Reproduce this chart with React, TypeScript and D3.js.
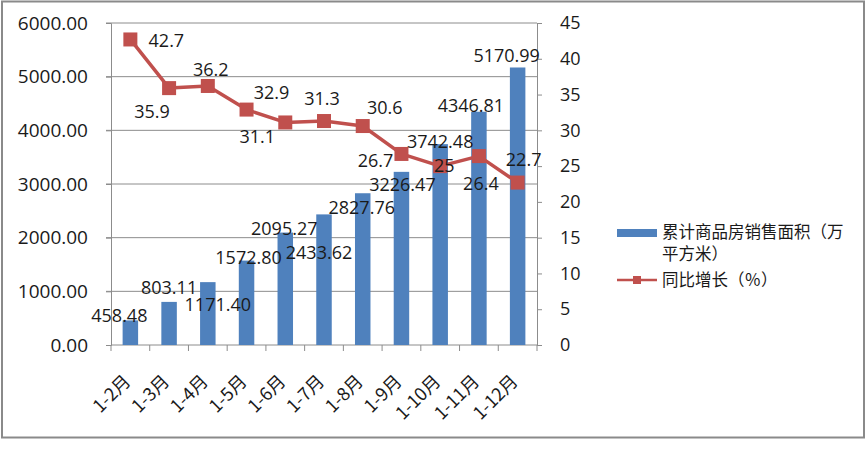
import { useEffect, useRef } from "react";
import * as d3 from "d3";

const categories = ["1-2月", "1-3月", "1-4月", "1-5月", "1-6月", "1-7月", "1-8月", "1-9月", "1-10月", "1-11月", "1-12月"];
const areaValues = [458.48, 803.11, 1171.4, 1572.8, 2095.27, 2433.62, 2827.76, 3226.47, 3742.48, 4346.81, 5170.99];
const areaLabels = ["458.48", "803.11", "1171.40", "1572.80", "2095.27", "2433.62", "2827.76", "3226.47", "3742.48", "4346.81", "5170.99"];
const growthValues = [42.7, 35.9, 36.2, 32.9, 31.1, 31.3, 30.6, 26.7, 25, 26.4, 22.7];
const leftTicks = [0, 1000, 2000, 3000, 4000, 5000, 6000];
const rightTicks = [0, 5, 10, 15, 20, 25, 30, 35, 40, 45];
const seriesNames = ["累计商品房销售面积（万", "平方米）", "同比增长（％）"];

// label nudges (px)
const barLabelOffsets: [number, number][] = [[-11, -5], [0, -14], [10, 23], [2, -3], [-1, -4], [-5, 38], [-1, 14], [1, 13], [0, -2], [-8, -6], [-11, -12]];
const lineLabelOffsets: [number, number][] = [[36, 1], [-17, 24], [3, -16], [25, -17], [-28, 14], [-2, -22], [22, -18], [-26, 7], [4, 0], [2, 28], [6, -23]];

const App = () => {
  const svgRef = useRef<SVGSVGElement>(null);

  useEffect(() => {
    const w = 868;
    const h = 450;
    const left = 111, right = 537, top = 23, bottom = 345;
    const font = "'Open Sans', 'Noto Sans', sans-serif";
    const cjk = "'Noto Sans CJK SC', sans-serif";
    const grid = "#8c8c8c";

    const svg = d3.select(svgRef.current).attr("width", w).attr("height", h);
    svg.selectAll("*").remove();

    svg.append("rect").attr("x", 0).attr("y", 0).attr("width", w).attr("height", h).attr("fill", "#fff");
    svg.append("rect").attr("x", 2).attr("y", 1.5).attr("width", 862).attr("height", 436)
      .attr("fill", "none").attr("stroke", "#8a8a8a").attr("stroke-width", 2);

    const x = d3.scaleBand().domain(categories).range([left, right]).paddingInner(0.6).paddingOuter(0.3);
    const xc = (d: string) => (x(d) as number) + x.bandwidth() / 2;
    const yL = d3.scaleLinear().domain([0, 6000]).range([bottom, top]);
    const yR = d3.scaleLinear().domain([0, 45]).range([bottom, top]);

    // gridlines
    svg.append("g").selectAll("line").data(leftTicks.slice(1)).join("line")
      .attr("x1", left - 5).attr("x2", right).attr("y1", (d) => yL(d)).attr("y2", (d) => yL(d))
      .attr("stroke", grid).attr("stroke-width", 1);

    // left axis
    const gl = svg.append("g").attr("transform", `translate(${left},0)`)
      .call(d3.axisLeft(yL).tickValues(leftTicks).tickFormat((d) => (d as number).toFixed(2)).tickSizeOuter(0).tickSize(5).tickPadding(18));
    gl.select(".domain").attr("stroke", grid);
    gl.selectAll(".tick line").attr("stroke", grid);
    gl.selectAll("text").attr("font-family", font).attr("font-size", 19).attr("fill", "#1a1a1a");

    // right axis
    const gr = svg.append("g").attr("transform", `translate(${right},0)`)
      .call(d3.axisRight(yR).tickValues(rightTicks).tickSizeOuter(0).tickSize(5).tickPadding(18));
    gr.select(".domain").attr("stroke", grid);
    gr.selectAll(".tick line").attr("stroke", grid);
    gr.selectAll("text").attr("font-family", font).attr("font-size", 18).attr("fill", "#1a1a1a");

    // bottom axis with ticks between categories
    const bounds = d3.range(categories.length + 1).map((i) => left + i * (right - left) / categories.length);
    svg.append("line").attr("x1", left).attr("x2", right).attr("y1", bottom).attr("y2", bottom).attr("stroke", grid);
    svg.append("g").selectAll("line").data(bounds).join("line")
      .attr("x1", (d) => d).attr("x2", (d) => d).attr("y1", bottom).attr("y2", bottom + 6).attr("stroke", grid);
    svg.append("g").selectAll("text").data(categories).join("text")
      .attr("transform", (d) => `translate(${xc(d) - 3},${bottom + 33}) rotate(-45)`)
      .attr("text-anchor", "end").attr("dy", "0.35em")
      .attr("font-family", cjk).attr("font-size", 18).attr("fill", "#1a1a1a")
      .text((d) => d);

    // bars
    svg.append("g").selectAll("rect").data(areaValues).join("rect")
      .attr("x", (_, i) => x(categories[i]) as number).attr("width", x.bandwidth())
      .attr("y", (d) => yL(d)).attr("height", (d) => bottom - yL(d))
      .attr("fill", "#4f81bd");

    // line
    const line = d3.line<number>().x((_, i) => xc(categories[i])).y((d) => yR(d));
    svg.append("path").datum(growthValues).attr("d", line)
      .attr("fill", "none").attr("stroke", "#c0504d").attr("stroke-width", 3.5).attr("stroke-linejoin", "round");
    svg.append("g").selectAll("rect").data(growthValues).join("rect")
      .attr("x", (_, i) => xc(categories[i]) - 7).attr("y", (d) => yR(d) - 7)
      .attr("width", 14).attr("height", 14).attr("fill", "#c0504d");

    // bar labels
    svg.append("g").selectAll("text").data(areaValues).join("text")
      .attr("x", (_, i) => xc(categories[i]) + barLabelOffsets[i][0])
      .attr("y", (d, i) => yL(d) + barLabelOffsets[i][1])
      .attr("dy", "0.35em").attr("text-anchor", "middle")
      .attr("font-family", font).attr("font-size", 18).attr("fill", "#1a1a1a")
      .text((_, i) => areaLabels[i]);

    // line labels
    svg.append("g").selectAll("text").data(growthValues).join("text")
      .attr("x", (_, i) => xc(categories[i]) + lineLabelOffsets[i][0])
      .attr("y", (d, i) => yR(d) + lineLabelOffsets[i][1])
      .attr("dy", "0.35em").attr("text-anchor", "middle")
      .attr("font-family", font).attr("font-size", 18).attr("fill", "#1a1a1a")
      .text((d) => String(d));

    // legend
    const lg = svg.append("g");
    lg.append("rect").attr("x", 617).attr("y", 229).attr("width", 40).attr("height", 8).attr("fill", "#4f81bd");
    lg.append("line").attr("x1", 617).attr("x2", 657).attr("y1", 280).attr("y2", 280)
      .attr("stroke", "#c0504d").attr("stroke-width", 2.5);
    lg.append("rect").attr("x", 633).attr("y", 276).attr("width", 8).attr("height", 8).attr("fill", "#c0504d");
    lg.selectAll("text").data(seriesNames).join("text")
      .attr("x", 662).attr("y", (_, i) => [232, 254, 280][i]).attr("dy", "0.35em")
      .attr("font-family", cjk).attr("font-size", 16.5).attr("fill", "#1a1a1a")
      .text((d) => d);
  }, []);

  return (
    <div style={{ position: "absolute", left: 0, top: 0 }}>
      <svg ref={svgRef} style={{ display: "block" }}></svg>
    </div>
  );
};

export default App;
